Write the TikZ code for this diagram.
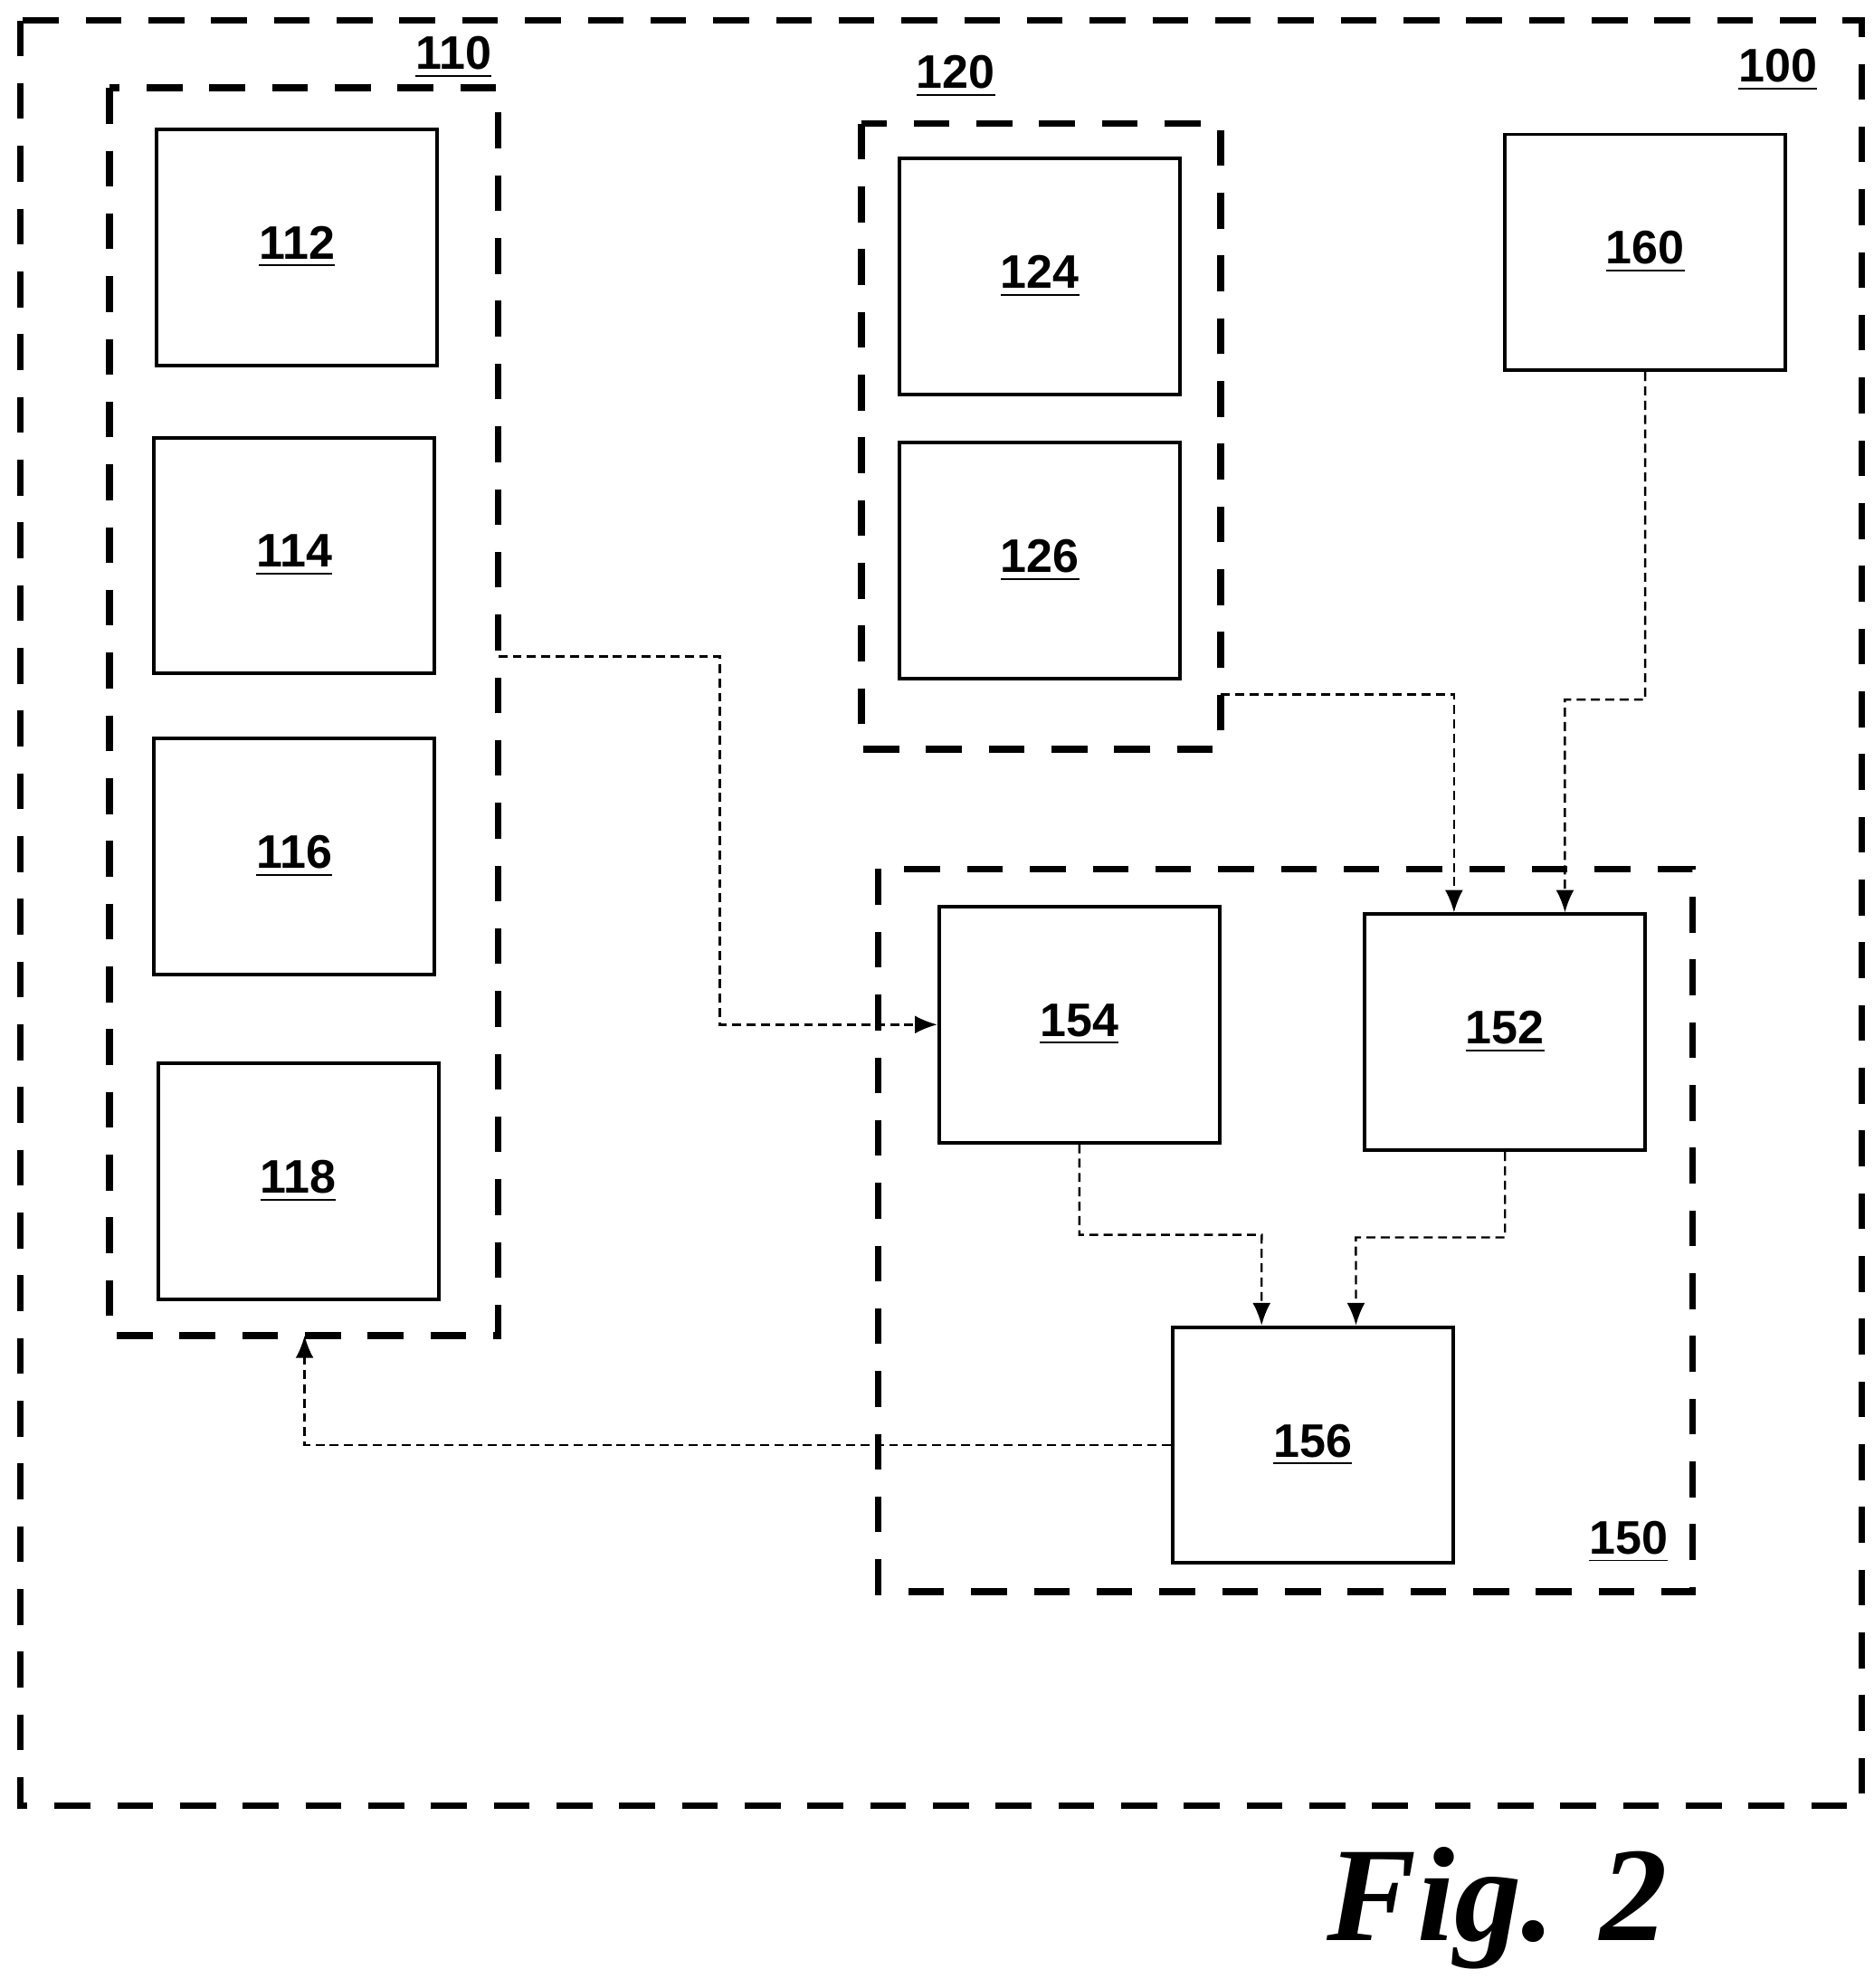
\documentclass[tikz,border=0pt]{standalone}
\usepackage{fontspec}
\setmainfont{Liberation Sans}
\newfontfamily\figfont{Liberation Serif}
\usetikzlibrary{positioning, arrows.meta}
\tikzset{
  unit/.style={draw, line width=0.8pt, minimum width=2.2cm, minimum height=1.85cm,
    font=\bfseries\fontsize{10.5}{10.5}\selectfont},
  group/.style={draw, line width=1.5pt, dash pattern=on 8pt off 6pt},
  num/.style={font=\bfseries\fontsize{10.5}{10.5}\selectfont},
  link/.style={-{Latex[length=5pt,width=4pt]}, line width=0.5pt, dash pattern=on 2pt off 1.2pt},
}
\newcommand{\ul}[1]{\underline{#1}}
\begin{document}
\begin{tikzpicture}[x=0.01cm, y=-0.01cm]
		\useasboundingbox (0,0) rectangle (1470,1560);

		% outer system
		\draw [group] (16,16) rectangle (1461,1417);
		\node [num] (l-100) at (1395,55) {\ul{100}};

		% group 110
		\draw [group] (86,69) rectangle (391,1048);
		\coordinate (g110-e) at (391,515);
		\coordinate (g110-s) at (239,1048);
		\node [num] (l-110) at (356,45) {\ul{110}};
		\node [unit] (u-112) at (233,194) {\ul{112}};
		\node [unit] (u-114) at (231,436) {\ul{114}};
		\node [unit] (u-116) at (231,672) {\ul{116}};
		\node [unit] (u-118) at (234,927) {\ul{118}};

		% group 120
		\draw [group] (676,97) rectangle (958,588);
		\coordinate (g120-e) at (958,545);
		\node [num] (l-120) at (750,60) {\ul{120}};
		\node [unit] (u-124) at (816,217) {\ul{124}};
		\node [unit] (u-126) at (816,440) {\ul{126}};

		% 160
		\node [unit] (u-160) at (1291,198) {\ul{160}};

		% group 150
		\draw [group] (689,682) rectangle (1328,1249);
		\node [num] (l-150) at (1278,1210) {\ul{150}};
		\node [unit] (u-154) at (847,804) {\ul{154}};
		\node [unit] (u-152) at (1181,810) {\ul{152}};
		\node [unit] (u-156) at (1030,1134) {\ul{156}};

		\draw [link] (g110-e) -| (565,804) -- (u-154.west);
		\draw [link] (g120-e) -| ([xshift=-0.4cm]u-152.north);
		\draw [link] (u-160.south) |- (1228,549) -- ([xshift=0.47cm]u-152.north);
		\draw [link] (u-154.south) |- (990,969) -- ([xshift=-0.4cm]u-156.north);
		\draw [link] (u-152.south) |- (1064,971) -- ([xshift=0.34cm]u-156.north);
		\draw [link] (u-156.west) -| (g110-s);

		\node [font=\figfont\bfseries\itshape\fontsize{30}{30}\selectfont] (fig) at (1175,1497) {Fig. 2};
	\end{tikzpicture}
\end{document}
